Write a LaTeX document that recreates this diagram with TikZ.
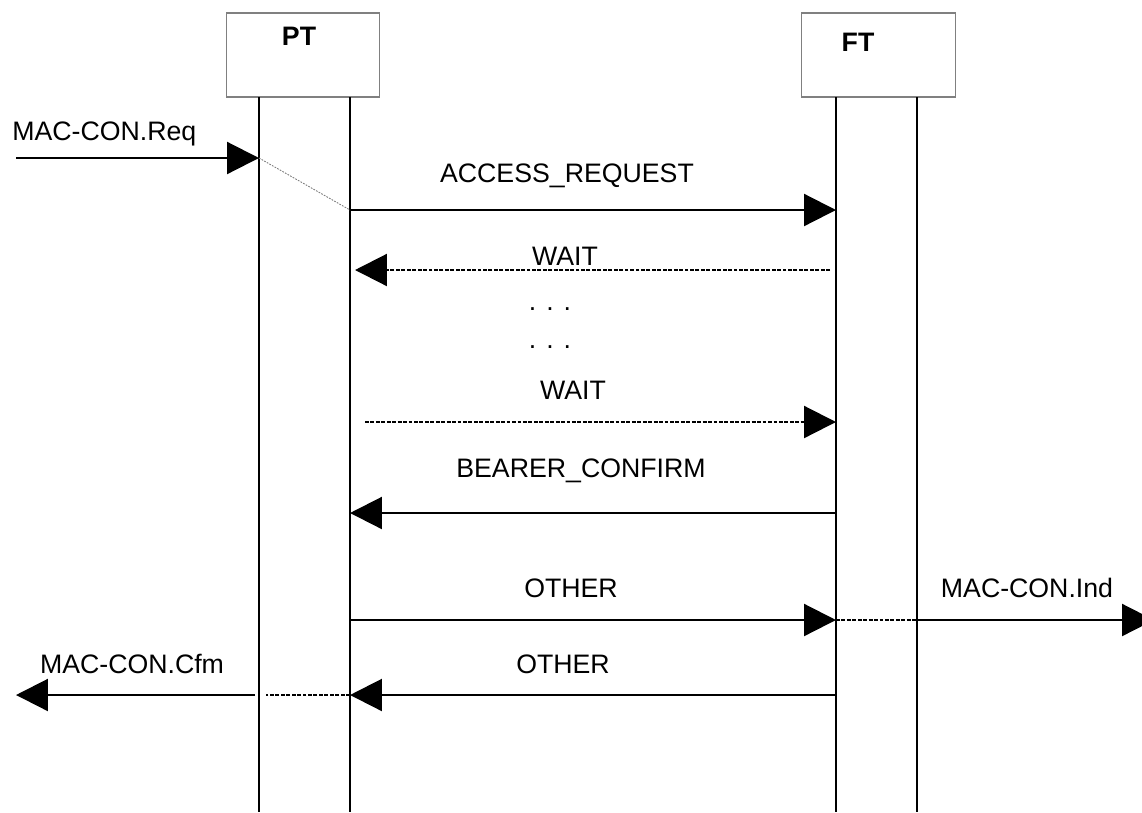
\documentclass[tikz,border=0pt]{standalone}
\usepackage{fontspec}
\setmainfont{Liberation Sans}
\usetikzlibrary{arrows.meta}

\tikzset{
  msg/.style={line width=1.25pt, -{Triangle[length=0.64cm,width=0.64cm]}},
  slowmsg/.style={msg, dash pattern=on 2.2pt off 0.9pt},
  dotline/.style={line width=1.25pt, dash pattern=on 2.2pt off 0.9pt},
  life/.style={line width=1.25pt},
  entity/.style={draw=gray, line width=0.6pt, minimum width=3.07cm, minimum height=1.68cm, inner sep=0pt},
  lbl/.style={font=\fontsize{15.2}{18}\selectfont, anchor=base, inner sep=0pt},
}

\begin{document}
\begin{tikzpicture}[x=0.02cm, y=-0.02cm, line cap=butt]

% --- Parameters (pixel grid of the page) ---
\def\ytop{97}     % lower edge of the boxes
\def\ybot{812}    % end of the lifelines
\useasboundingbox (0,0) rectangle (1142,812);

% --- Entity boxes ---
\node[entity] (PTbox) at (303,55) {};
\node[entity] (FTbox) at (878.5,55) {};
\node[lbl, font=\bfseries\fontsize{15.2}{18}\selectfont] (PTname) at (299,45) {PT};
\node[lbl, font=\bfseries\fontsize{15.2}{18}\selectfont] (FTname) at (858,51) {FT};

% --- Lifelines ---
\coordinate (pta) at (259,\ytop);  \coordinate (ptaend) at (259,\ybot);
\coordinate (ptb) at (350,\ytop);  \coordinate (ptbend) at (350,\ybot);
\coordinate (fta) at (836,\ytop);  \coordinate (ftaend) at (836,\ybot);
\coordinate (ftb) at (917,\ytop);  \coordinate (ftbend) at (917,\ybot);
\draw[life] (pta) -- (ptaend);
\draw[life] (ptb) -- (ptbend);
\draw[life] (fta) -- (ftaend);
\draw[life] (ftb) -- (ftbend);

% --- MAC-CON.Req ---
\coordinate (reqin) at (16,158);
\coordinate (reqpt) at (259,158);
\draw[msg] (reqin) -- (reqpt);
\node[lbl, anchor=base west] (reqlbl) at (12,140) {MAC-CON.Req};

% --- ACCESS_REQUEST ---
\coordinate (accpt) at (350,210);
\coordinate (accft) at (836,210);
\draw[gray, line width=0.5pt, dash pattern=on 1pt off 0.7pt] (reqpt) -- (accpt);
\draw[msg] (accpt) -- (accft);
\node[lbl] (acclbl) at (567,182) {ACCESS\_REQUEST};

% --- WAIT (FT to PT) ---
\coordinate (waitaft) at (830,270);
\coordinate (waitapt) at (355,270);
\draw[slowmsg] (waitaft) -- (waitapt);
\node[lbl] (waitalbl) at (565,265) {WAIT};

% --- Repetition ---
\node[lbl] (dotsa) at (550,310) {. . .};
\node[lbl] (dotsb) at (550,348) {. . .};

% --- WAIT (PT to FT) ---
\coordinate (waitbpt) at (365,422);
\coordinate (waitbft) at (836,422);
\draw[slowmsg] (waitbpt) -- (waitbft);
\node[lbl] (waitblbl) at (573,399) {WAIT};

% --- BEARER_CONFIRM ---
\coordinate (confft) at (836,513);
\coordinate (confpt) at (350,513);
\draw[msg] (confft) -- (confpt);
\node[lbl] (conflbl) at (581,477) {BEARER\_CONFIRM};

% --- OTHER (PT to FT) and MAC-CON.Ind ---
\coordinate (otherapt) at (350,620);
\coordinate (otheraft) at (836,620);
\coordinate (indft) at (917,620);
\coordinate (indout) at (1154,620);
\draw[msg] (otherapt) -- (otheraft);
\draw[dotline] (otheraft) -- (indft);
\draw[msg] (indft) -- (indout);
\node[lbl] (otheralbl) at (571,597) {OTHER};
\node[lbl] (indlbl) at (1027,597) {MAC-CON.Ind};

% --- OTHER (FT to PT) and MAC-CON.Cfm ---
\coordinate (otherbft) at (836,695);
\coordinate (otherbpt) at (350,695);
\coordinate (cfmgap) at (266,695);
\coordinate (cfmpt) at (255,695);
\coordinate (cfmout) at (16,695);
\draw[msg] (otherbft) -- (otherbpt);
\draw[dotline] (otherbpt) -- (cfmgap);
\draw[msg] (cfmpt) -- (cfmout);
\node[lbl] (otherblbl) at (563,673) {OTHER};
\node[lbl] (cfmlbl) at (132,673) {MAC-CON.Cfm};

\end{tikzpicture}
\end{document}
